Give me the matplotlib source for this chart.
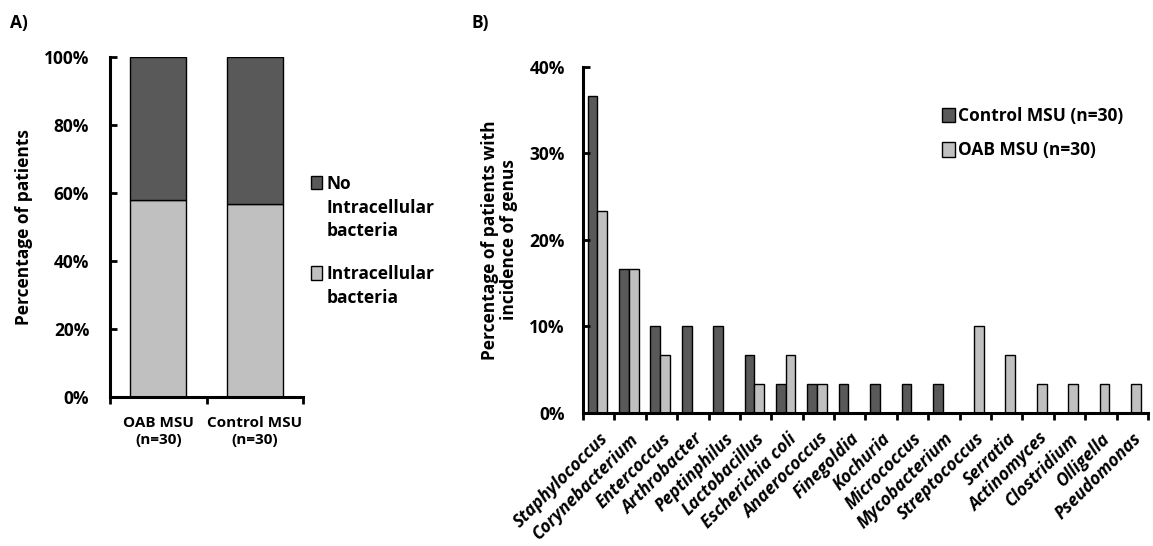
import numpy as np
import matplotlib
matplotlib.use('Agg')
import matplotlib.pyplot as plt
from matplotlib.patches import Rectangle
from matplotlib.ticker import PercentFormatter

plt.rcParams['font.family'] = ['Open Sans', 'DejaVu Sans']
plt.rcParams['font.weight'] = 'bold'

# panel A data
groups_a = ['OAB MSU\n(n=30)', 'Control MSU\n(n=30)']
intracellular = [58.0, 56.7]
no_intracellular = [42.0, 43.3]
legend_a = ['No\nIntracellular\nbacteria', 'Intracellular\nbacteria']

# panel B data
genera = ['Staphylococcus', 'Corynebacterium', 'Entercoccus', 'Arthrobacter',
          'Peptinphilus', 'Lactobacillus', 'Escherichia coli', 'Anaerococcus',
          'Finegoldia', 'Kochuria', 'Micrococcus', 'Mycobacterium',
          'Streptococcus', 'Serratia', 'Actinomyces', 'Clostridium',
          'Olligella', 'Pseudomonas']
control_msu = [36.7, 16.7, 10.0, 10.0, 10.0, 6.7, 3.3, 3.3, 3.3, 3.3, 3.3, 3.3,
               0, 0, 0, 0, 0, 0]
oab_msu = [23.3, 16.7, 6.7, 0, 0, 3.3, 6.7, 3.3, 0, 0, 0, 0,
           10.0, 6.7, 3.3, 3.3, 3.3, 3.3]

dark = '#595959'
light = '#c0c0c0'

fig = plt.figure(figsize=(11.53, 5.46), dpi=100)

# ---- A ----
ax1 = fig.add_axes([0.0954, 0.2729, 0.1674, 0.6227])
x = np.arange(len(groups_a))
ax1.bar(x, intracellular, width=0.58, color=light, edgecolor='black', linewidth=1)
ax1.bar(x, no_intracellular, width=0.58, bottom=intracellular, color=dark,
        edgecolor='black', linewidth=1)
ax1.set_xlim(-0.5, 1.5)
ax1.set_ylim(0, 100)
ax1.set_yticks(np.arange(0, 101, 20))
ax1.yaxis.set_major_formatter(PercentFormatter(decimals=0))
ax1.set_xticks([-0.5, 0.5, 1.5])
ax1.set_xticklabels([])
ax1.set_xticks(x, minor=True)
ax1.set_xticklabels(groups_a, minor=True, fontsize=11, fontweight='bold')
ax1.tick_params(axis='x', which='minor', length=0, pad=14)
ax1.tick_params(axis='x', which='major', length=5, width=2)
ax1.tick_params(axis='y', direction='in', length=5, width=2, labelsize=12.5, pad=15)
for s in ['top', 'right']:
    ax1.spines[s].set_visible(False)
for s in ['left', 'bottom']:
    ax1.spines[s].set_linewidth(2.2)
ax1.set_ylabel('Percentage of patients', fontsize=12.5, fontweight='bold')
ax1.yaxis.set_label_coords(-0.40, 0.5)

# legend for A drawn by hand so the box sits beside the first line
y0 = [0.665, 0.5]
for i, (lab, col) in enumerate(zip(legend_a, [dark, light])):
    fig.patches.append(Rectangle((0.2695, y0[i] - 0.012), 0.0095, 0.024, facecolor=col,
                                 edgecolor='black', linewidth=1, transform=fig.transFigure))
    fig.text(0.283, y0[i] + 0.014, lab, fontsize=12.5, fontweight='bold', va='top',
             linespacing=1.4)
fig.text(0.009, 0.975, 'A)', fontsize=12.5, fontweight='bold', va='top')

# ---- B ----
ax2 = fig.add_axes([0.5056, 0.2436, 0.490, 0.6337])
xb = np.arange(len(genera))
w = 0.31
ax2.bar(xb - w / 2 - 0.04, control_msu, width=w, color=dark, edgecolor='black',
        linewidth=1, label='Control MSU (n=30)')
ax2.bar(xb + w / 2 - 0.04, oab_msu, width=w, color=light, edgecolor='black',
        linewidth=1, label='OAB MSU (n=30)')
ax2.set_xlim(-0.5, len(genera) - 0.5)
ax2.set_ylim(0, 40)
ax2.set_yticks([0, 10, 20, 30, 40])
ax2.yaxis.set_major_formatter(PercentFormatter(decimals=0))
ax2.set_xticks(np.arange(-0.5, len(genera), 1))
ax2.set_xticklabels([])
ax2.set_xticks(xb, minor=True)
ax2.set_xticklabels(genera, minor=True, rotation=45, ha='right', rotation_mode='anchor',
                    fontsize=12.5, fontweight='bold', style='italic')
ax2.tick_params(axis='x', which='minor', length=0, pad=12)
ax2.tick_params(axis='x', which='major', length=5, width=2)
ax2.tick_params(axis='y', direction='in', length=5, width=2, labelsize=12.5, pad=13)
for s in ['top', 'right']:
    ax2.spines[s].set_visible(False)
for s in ['left', 'bottom']:
    ax2.spines[s].set_linewidth(2.2)
ax2.set_ylabel('Percentage of patients with\nincidence of genus', fontsize=12.5,
               fontweight='bold', linespacing=1.1)
ax2.yaxis.set_label_coords(-0.115, 0.5)
ax2.legend(loc='upper right', bbox_to_anchor=(0.984, 0.93), frameon=False,
           prop={'size': 12.5, 'weight': 'bold'}, handlelength=0.7, handleheight=0.9,
           handletextpad=0.2, labelspacing=0.95)
fig.text(0.409, 0.975, 'B)', fontsize=12.5, fontweight='bold', va='top')

fig.savefig('out.png', dpi=100)
